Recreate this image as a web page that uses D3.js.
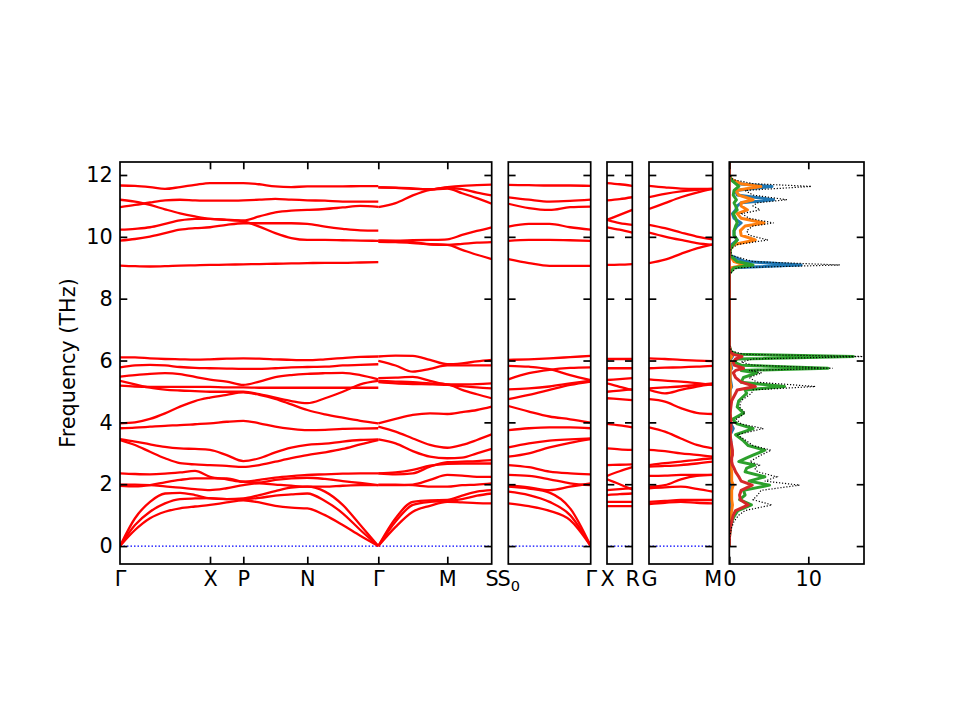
<!DOCTYPE html>
<html>
<head>
<meta charset="utf-8">
<script src="https://cdn.jsdelivr.net/npm/d3@7"></script>
<style>
  body { margin: 0; background: #fff; }
  text { font-family: "DejaVu Sans", sans-serif; }
</style>
</head>
<body>
<svg id="chart" width="960" height="720"></svg>
<script>
// ---- data ----
const freqTicks = [0, 2, 4, 6, 8, 10, 12];

// panel 1 : Γ-X-P-N-Γ-M-S (path distance)
const pathTicks1 = [0, 0.90, 1.233, 1.873, 2.583, 3.273, 3.717];
const pathLabels1 = ["Γ", "X", "P", "N", "Γ", "M", "S"];

const kGG = [0, 0.15, 0.30, 0.45, 0.60, 0.75, 0.90, 1.067, 1.233, 1.393, 1.553, 1.713, 1.873, 2.05, 2.227, 2.403, 2.583];
const bandsGG = [
  [11.66,11.65,11.61,11.55,11.61,11.68,11.74,11.74,11.74,11.70,11.63,11.61,11.63,11.63,11.63,11.64,11.64],
  [11.20,11.14,11.03,10.89,10.76,10.66,10.58,10.55,10.50,10.33,10.12,9.96,9.90,9.90,9.89,9.88,9.87],
  [10.96,11.03,11.11,11.18,11.20,11.18,11.17,11.17,11.18,11.20,11.23,11.20,11.18,11.17,11.14,11.14,11.14],
  [10.23,10.26,10.31,10.42,10.53,10.58,10.58,10.55,10.53,10.66,10.79,10.85,10.87,10.90,10.95,11.00,10.97],
  [9.88,9.93,10.01,10.12,10.23,10.28,10.31,10.39,10.44,10.44,10.44,10.44,10.42,10.33,10.26,10.21,10.20],
  [9.07,9.05,9.04,9.05,9.07,9.08,9.09,9.10,9.11,9.12,9.13,9.14,9.15,9.16,9.16,9.17,9.18],
  [6.10,6.10,6.07,6.05,6.04,6.03,6.04,6.06,6.07,6.06,6.04,6.02,6.01,6.04,6.08,6.12,6.13],
  [5.78,5.84,5.86,5.84,5.79,5.76,5.75,5.74,5.73,5.73,5.75,5.78,5.79,5.80,5.84,5.86,5.88],
  [5.48,5.53,5.57,5.59,5.56,5.47,5.38,5.32,5.21,5.32,5.46,5.53,5.57,5.59,5.60,5.53,5.39],
  [5.19,5.16,5.15,5.15,5.15,5.15,5.15,5.13,5.13,5.12,5.12,5.12,5.12,5.12,5.12,5.12,5.12],
  [5.34,5.23,5.12,5.06,5.03,5.01,4.99,4.99,4.99,4.91,4.80,4.69,4.62,4.78,4.99,5.23,5.34],
  [3.97,4.00,4.11,4.29,4.51,4.69,4.80,4.89,4.97,4.89,4.76,4.58,4.40,4.26,4.15,4.05,3.97],
  [3.81,3.83,3.86,3.89,3.91,3.94,3.97,4.02,4.05,3.97,3.86,3.79,3.75,3.76,3.79,3.80,3.81],
  [3.46,3.38,3.29,3.21,3.16,3.14,3.11,2.94,2.75,2.84,3.03,3.18,3.27,3.31,3.38,3.43,3.45],
  [3.43,3.27,3.05,2.84,2.68,2.64,2.62,2.59,2.56,2.62,2.73,2.84,2.94,3.03,3.14,3.29,3.43],
  [2.35,2.33,2.32,2.34,2.38,2.43,2.24,2.16,2.08,2.14,2.21,2.26,2.30,2.32,2.34,2.35,2.35],
  [1.99,1.99,1.97,1.93,1.89,1.84,1.81,1.87,1.97,2.03,1.99,1.95,1.92,1.92,1.95,1.97,1.97],
  [1.95,1.93,1.97,2.06,2.14,2.19,2.19,2.19,2.08,2.06,2.14,2.19,2.21,2.17,2.10,2.04,1.97],
  [0,0.90,1.43,1.70,1.72,1.65,1.54,1.52,1.54,1.65,1.78,1.89,1.92,1.76,1.33,0.68,0],
  [0,0.68,1.11,1.38,1.52,1.54,1.55,1.52,1.52,1.56,1.63,1.67,1.70,1.46,1.06,0.52,0],
  [0,0.52,0.90,1.11,1.22,1.28,1.33,1.41,1.48,1.41,1.30,1.24,1.22,1.00,0.68,0.33,0]
];

const kGS = [2.583, 2.756, 2.928, 3.10, 3.273, 3.421, 3.569, 3.717];
const bandsGS = [
  [11.60,11.58,11.55,11.54,11.61,11.65,11.67,11.69],
  [10.96,11.09,11.34,11.52,11.58,11.54,11.43,11.34],
  [11.60,11.59,11.57,11.53,11.56,11.41,11.25,11.07],
  [9.88,9.88,9.89,9.90,9.92,10.06,10.19,10.31],
  [9.88,9.86,9.83,9.76,9.74,9.77,9.81,9.83],
  [9.84,9.83,9.80,9.76,9.74,9.58,9.42,9.28],
  [6.13,6.16,6.15,6.02,5.88,5.91,5.97,6.02],
  [5.99,5.84,5.64,5.73,5.84,5.84,5.84,5.84],
  [5.43,5.45,5.47,5.34,5.23,5.23,5.24,5.26],
  [5.30,5.26,5.24,5.23,5.21,5.17,5.13,5.10],
  [5.34,5.32,5.30,5.26,5.23,5.05,4.91,4.78],
  [3.97,4.11,4.24,4.29,4.27,4.33,4.40,4.51],
  [3.86,3.70,3.48,3.27,3.18,3.27,3.43,3.61],
  [3.45,3.32,3.07,2.89,2.84,2.86,3.00,3.14],
  [2.35,2.32,2.35,2.57,2.71,2.73,2.75,2.78],
  [2.35,2.38,2.46,2.60,2.66,2.67,2.67,2.67],
  [1.97,1.97,1.99,2.14,2.30,2.28,2.24,2.24],
  [1.99,1.99,1.97,1.92,1.92,1.97,1.99,2.03],
  [0,0.90,1.43,1.48,1.49,1.63,1.76,1.81],
  [0,0.79,1.33,1.43,1.46,1.52,1.63,1.70],
  [0,0.62,1.11,1.30,1.43,1.41,1.39,1.38]
];

// panel 2 : S0-Γ
const kS0G = [0, 0.25, 0.5, 0.75, 1];
const bandsS0G = [
  [11.68,11.67,11.66,11.66,11.65],
  [11.28,11.20,11.14,11.16,11.20],
  [11.07,10.93,10.87,10.96,10.98],
  [10.33,10.42,10.42,10.31,10.23],
  [9.87,9.90,9.90,9.89,9.87],
  [9.28,9.15,9.06,9.06,9.06],
  [6.02,6.04,6.07,6.11,6.15],
  [5.83,5.80,5.72,5.53,5.37],
  [5.39,5.59,5.70,5.76,5.78],
  [5.07,5.10,5.16,5.26,5.35],
  [4.75,4.89,5.05,5.21,5.32],
  [4.53,4.35,4.19,4.10,3.99],
  [3.75,3.81,3.84,3.84,3.81],
  [3.19,3.32,3.41,3.45,3.48],
  [2.89,3.00,3.19,3.34,3.46],
  [2.62,2.55,2.41,2.35,2.32],
  [2.30,2.27,2.16,2.03,1.97],
  [1.97,1.90,1.81,1.92,2.03],
  [1.92,1.86,1.73,1.22,0],
  [1.76,1.65,1.43,1.00,0],
  [1.38,1.29,1.14,0.84,0]
];

// panel 3 : X-R
const kXR = [0, 0.5, 1];
const bandsXR = [
  [11.74,11.70,11.65],
  [11.18,11.22,11.28],
  [10.55,10.71,10.87],
  [10.55,10.44,10.39],
  [10.31,10.23,10.14],
  [9.09,9.10,9.12],
  [6.05,6.05,6.05],
  [5.75,5.75,5.75],
  [5.37,5.40,5.43],
  [5.26,5.15,5.05],
  [4.99,5.03,5.07],
  [4.78,4.75,4.72],
  [3.95,3.90,3.84],
  [3.16,3.13,3.11],
  [2.62,2.63,2.64],
  [2.27,2.42,2.55],
  [2.16,2.00,1.83],
  [1.81,1.84,1.87],
  [1.65,1.68,1.70],
  [1.43,1.43,1.43],
  [1.29,1.29,1.29]
];

// panel 4 : G-M
const kGM = [0, 0.25, 0.5, 0.75, 1];
const bandsGM = [
  [11.65,11.60,11.56,11.55,11.55],
  [11.28,11.39,11.47,11.52,11.55],
  [10.90,11.09,11.28,11.43,11.55],
  [10.39,10.28,10.14,10.01,9.92],
  [10.14,10.01,9.90,9.80,9.74],
  [9.15,9.26,9.45,9.63,9.76],
  [6.07,6.05,6.02,6.00,5.98],
  [5.75,5.77,5.78,5.80,5.83],
  [5.39,5.35,5.32,5.27,5.21],
  [5.10,5.13,5.16,5.21,5.26],
  [5.05,4.94,5.05,5.16,5.24],
  [4.75,4.67,4.46,4.31,4.27],
  [3.84,3.70,3.48,3.27,3.16],
  [3.11,3.07,3.00,2.95,2.89],
  [2.62,2.68,2.73,2.79,2.84],
  [2.57,2.59,2.62,2.67,2.73],
  [2.27,2.28,2.30,2.30,2.30],
  [1.92,1.97,2.16,2.27,2.30],
  [1.87,1.90,1.92,1.85,1.76],
  [1.43,1.46,1.49,1.49,1.49],
  [1.36,1.40,1.43,1.40,1.38]
];

// DOS panel
const dosTicks = [0, 10];
const dosFreq = [0,0.3,0.6,0.8,1.0,1.15,1.33,1.5,1.65,1.8,1.97,2.1,2.24,2.4,2.52,2.62,2.73,2.85,2.94,3.1,
  3.25,3.4,3.6,3.8,3.95,4.1,4.3,4.5,4.7,4.94,5.05,5.16,5.3,5.45,5.6,5.68,5.75,5.85,5.95,6.05,
  6.13,6.2,6.3,6.5,8.8,9.0,9.09,9.2,9.4,9.6,9.75,9.9,10.05,10.2,10.35,10.45,10.6,10.75,10.87,11.0,
  11.1,11.2,11.35,11.5,11.63,11.72,11.85,12.0,12.4];
const dosTotal = [0,0.05,0.3,0.6,1.2,2.0,5.4,3.0,3.6,4.0,8.9,4.5,6.0,3.6,3.2,3.8,2.6,3.4,4.0,5.3,
  3.0,2.2,1.0,4.3,1.5,0.9,2.0,1.3,1.5,2.8,3.0,10.9,3.5,2.5,4.1,2.5,13.1,3.0,1.5,3.0,
  16.9,2.0,0.3,0,0,1.0,14.0,3.0,0.3,0.2,1.0,4.9,2.5,2.2,3.0,5.6,2.5,1.6,3.9,3.0,
  3.5,7.3,3.0,2.0,10.4,3.0,0.5,0,0];
const pdosBlue = [0,0,0.05,0.1,0.15,0.2,0.3,0.2,0.2,0.2,0.3,0.2,0.2,0.2,0.2,0.2,0.2,0.2,0.2,0.2,
  0.2,0.2,0.1,0.5,0.2,0.1,0.1,0.1,0.1,0.1,0.1,0.3,0.2,0.1,0.1,0.1,0.3,0.2,0.1,0.2,
  0.4,0.2,0,0,0,0.5,9.1,2.0,0.1,0.1,0.3,1.0,0.6,0.6,1.0,1.5,0.6,0.4,0.8,1.0,
  1.5,5.6,1.0,0.8,5.4,1.0,0.2,0,0];
const pdosOrange = [0,0,0.05,0.1,0.2,0.3,0.4,0.3,0.3,0.3,0.5,0.3,0.3,0.3,0.2,0.2,0.2,0.2,0.2,0.2,
  0.2,0.1,0.1,0.2,0.1,0.1,0.1,0.1,0.1,0.1,0.1,0.2,0.1,0.1,0.1,0.1,0.2,0.1,0.1,0.1,
  0.3,0.1,0,0,0,0.3,2.0,0.6,0.1,0.1,0.6,3.3,1.5,1.4,2.0,4.4,1.5,1.0,2.3,1.5,
  1.5,3.0,1.2,0.8,4.0,1.5,0.3,0,0];
const pdosGreen = [0,0.02,0.15,0.3,0.7,1.1,2.8,1.3,2.0,1.8,5.1,2.5,4.5,2.0,2.2,3.2,1.2,2.2,3.0,4.5,
  2.4,1.8,0.8,3.0,1.0,0.4,1.8,1.0,1.2,2.2,2.0,7.0,1.5,1.8,3.5,1.5,12.5,1.5,0.6,1.0,
  15.7,1.0,0.2,0,0,0.6,3.0,1.0,0.1,0.1,0.5,1.0,0.6,0.6,0.8,1.0,0.8,0.5,1.0,0.8,
  0.6,0.9,0.5,0.6,1.2,0.8,0.2,0,0];
const pdosRed = [0,0.03,0.15,0.3,0.5,0.8,2.4,1.4,1.3,1.5,2.9,1.5,1.2,0.8,0.6,0.4,0.3,0.3,0.4,0.4,
  0.3,0.2,0.1,0.2,0.2,0.2,0.1,0.2,0.3,0.8,1.0,3.3,1.5,0.8,0.5,0.8,1.8,0.6,0.5,0.8,
  1.6,0.5,0.1,0,0,0,0,0,0,0,0,0,0,0,0,0,0,0,0,0,
  0,0,0,0,0,0,0,0,0];

// ---- layout ----
const svg = d3.select("#chart");
const yTop = 162, yBot = 564;
const tickLen = 7.3;
const fontPx = 20.8;
const y = d3.scaleLinear().domain([-0.58, 12.42]).range([yBot, yTop]);

const panels = [
  { x0: 120, x1: 491.7, dom: [0, 3.717], ticks: pathTicks1, labels: pathLabels1,
    segs: [{ k: kGG, bands: bandsGG }, { k: kGS, bands: bandsGS }] },
  { x0: 508.3, x1: 590.7, dom: [0, 1], ticks: [0, 1], labels: ["S_0", "Γ"],
    segs: [{ k: kS0G, bands: bandsS0G }] },
  { x0: 607, x1: 632.3, dom: [0, 1], ticks: [0, 1], labels: ["X", "R"],
    segs: [{ k: kXR, bands: bandsXR }] },
  { x0: 649, x1: 712.7, dom: [0, 1], ticks: [0, 1], labels: ["G", "M"],
    segs: [{ k: kGM, bands: bandsGM }] }
];

function frame(g, x0, x1) {
  g.append("rect")
    .attr("x", x0).attr("y", yTop)
    .attr("width", x1 - x0).attr("height", yBot - yTop)
    .attr("fill", "none").attr("stroke", "#000").attr("stroke-width", 1.7);
}

function yTicks(g, x0, x1, withLabels) {
  const left = g.append("g").attr("transform", "translate(" + x0 + ",0)")
    .call(d3.axisLeft(y).tickValues(freqTicks).tickSize(-tickLen).tickPadding(tickLen)
      .tickFormat(withLabels ? d3.format("d") : () => ""));
  const right = g.append("g").attr("transform", "translate(" + x1 + ",0)")
    .call(d3.axisRight(y).tickValues(freqTicks).tickSize(-tickLen).tickFormat(() => ""));
  [left, right].forEach(a => {
    a.select(".domain").remove();
    a.selectAll("line").attr("stroke-width", 1.7);
    a.selectAll("text").attr("font-size", fontPx).attr("fill", "#000")
      .attr("font-family", "DejaVu Sans");
  });
}

panels.forEach((p, pi) => {
  const x = d3.scaleLinear().domain(p.dom).range([p.x0, p.x1]);
  const g = svg.append("g");
  const clipId = "clip" + pi;
  svg.append("clipPath").attr("id", clipId).append("rect")
    .attr("x", p.x0).attr("y", yTop).attr("width", p.x1 - p.x0).attr("height", yBot - yTop);
  const plot = g.append("g").attr("clip-path", "url(#" + clipId + ")");

  plot.append("line")
    .attr("x1", x(p.dom[0])).attr("x2", x(p.dom[1]))
    .attr("y1", y(0)).attr("y2", y(0))
    .attr("stroke", "#0000ff").attr("stroke-width", 1.2)
    .attr("stroke-dasharray", "1.5,2");

  p.segs.forEach(s => {
    const line = d3.line()
      .x((d, i) => x(s.k[i]))
      .y(d => y(d))
      .curve(d3.curveMonotoneX);
    plot.selectAll(null).data(s.bands).enter().append("path")
      .attr("d", line)
      .attr("fill", "none").attr("stroke", "#ff0000")
      .attr("stroke-width", 2.3);
  });

  yTicks(g, p.x0, p.x1, pi === 0);

  const inner = p.ticks.slice(1, -1);
  const xb = g.append("g").attr("transform", "translate(0," + yBot + ")")
    .call(d3.axisBottom(x).tickValues(p.ticks).tickSize(-tickLen).tickPadding(tickLen)
      .tickFormat((d, i) => p.labels[i]));
  xb.select(".domain").remove();
  xb.selectAll(".tick line").attr("stroke-width", 1.7)
    .attr("opacity", d => inner.includes(d) ? 1 : 0);
  xb.selectAll("text").attr("font-size", fontPx).attr("fill", "#000")
    .attr("font-family", "DejaVu Sans")
    .each(function (d, i) {
      const lab = p.labels[i];
      if (lab.includes("_")) {
        const parts = lab.split("_");
        const t = d3.select(this).text(parts[0]);
        t.append("tspan").attr("font-size", fontPx * 0.7).attr("dy", "0.32em").text(parts[1]);
      }
    });
  const xt = g.append("g").attr("transform", "translate(0," + yTop + ")")
    .call(d3.axisTop(x).tickValues(inner).tickSize(-tickLen).tickFormat(() => ""));
  xt.select(".domain").remove();
  xt.selectAll("line").attr("stroke-width", 1.7);

  frame(g, p.x0, p.x1);
});

// ---- DOS panel ----
(function () {
  const x0 = 729.3, x1 = 864;
  const xd = d3.scaleLinear().domain([0, 17.05]).range([x0, x1]);
  const g = svg.append("g");
  svg.append("clipPath").attr("id", "clipDos").append("rect")
    .attr("x", x0).attr("y", yTop).attr("width", x1 - x0).attr("height", yBot - yTop);
  const plot = g.append("g").attr("clip-path", "url(#clipDos)");
  const line = d3.line().x(d => xd(d)).y((d, i) => y(dosFreq[i]));
  const partial = [
    { v: pdosBlue, c: "#1f77b4" },
    { v: pdosOrange, c: "#ff7f0e" },
    { v: pdosGreen, c: "#2ca02c" },
    { v: pdosRed, c: "#d62728" }
  ];
  partial.forEach(s => {
    plot.append("path").datum(s.v).attr("d", line)
      .attr("fill", "none").attr("stroke", s.c).attr("stroke-width", 3)
      .attr("stroke-linejoin", "round");
  });
  plot.append("path").datum(dosTotal).attr("d", line)
    .attr("fill", "none").attr("stroke", "#000").attr("stroke-width", 1.2)
    .attr("stroke-dasharray", "1.2,1.8");

  yTicks(g, x0, x1, false);
  const xb = g.append("g").attr("transform", "translate(0," + yBot + ")")
    .call(d3.axisBottom(xd).tickValues(dosTicks).tickSize(-tickLen).tickPadding(tickLen));
  xb.select(".domain").remove();
  xb.selectAll("line").attr("stroke-width", 1.7);
  xb.selectAll("text").attr("font-size", fontPx).attr("fill", "#000")
    .attr("font-family", "DejaVu Sans");
  const xt = g.append("g").attr("transform", "translate(0," + yTop + ")")
    .call(d3.axisTop(xd).tickValues(dosTicks).tickSize(-tickLen).tickFormat(() => ""));
  xt.select(".domain").remove();
  xt.selectAll("line").attr("stroke-width", 1.7);
  frame(g, x0, x1);
})();

svg.append("text")
  .attr("transform", "translate(68," + ((yTop + yBot) / 2) + ") rotate(-90)")
  .attr("text-anchor", "middle")
  .attr("dominant-baseline", "central")
  .attr("font-size", fontPx)
  .text("Frequency (THz)");
</script>
</body>
</html>
